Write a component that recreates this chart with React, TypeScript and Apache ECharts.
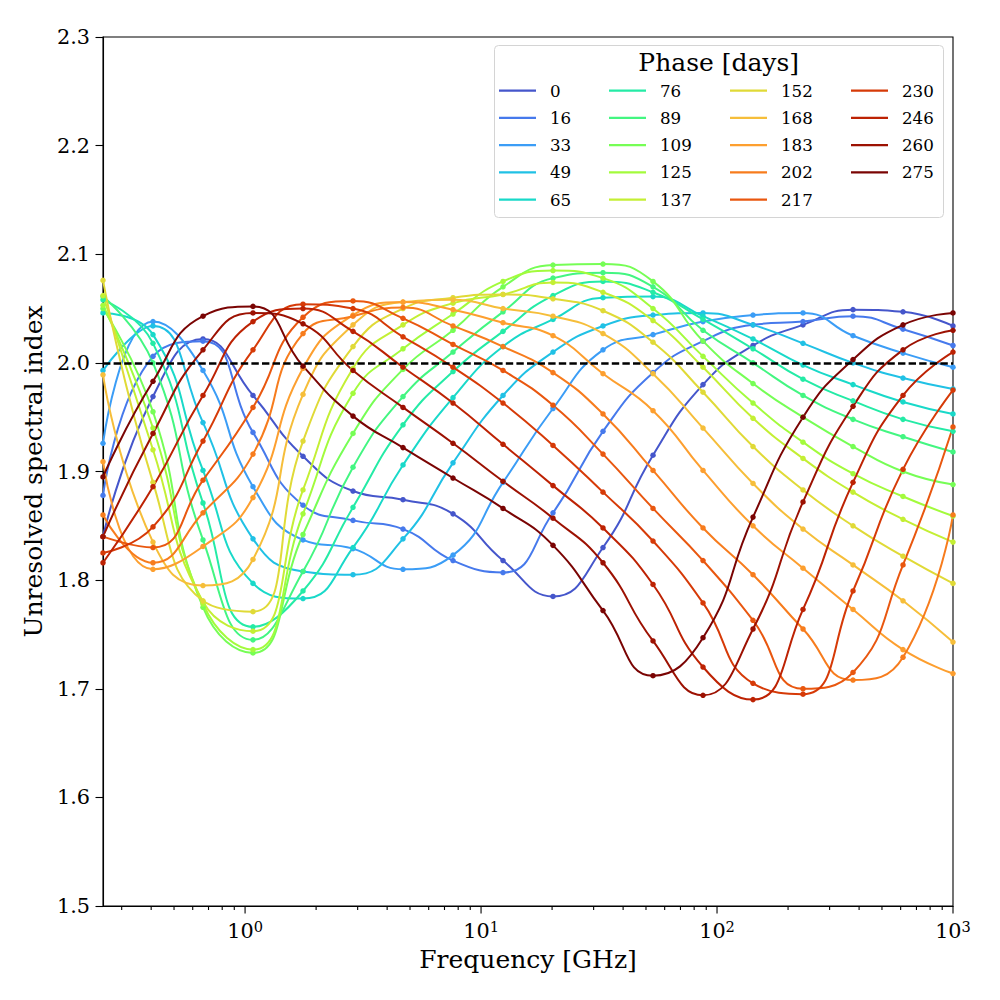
import React, { useEffect, useRef } from "react";
import * as echarts from "echarts";

// Marker frequencies [GHz] (18 log-spaced points from 0.25 to 1000 GHz)
const FREQ_GHZ = [0.25, 0.4072, 0.6633, 1.0804, 1.76, 2.8668, 4.67, 7.6063, 12.391, 20.18, 32.87, 53.548, 87.225, 142.08, 231.42, 376.96, 614.0, 1000];

const PHASES = [0, 16, 33, 49, 65, 76, 89, 109, 125, 137, 152, 168, 183, 202, 217, 230, 246, 260, 275];

// Unresolved spectral index per phase, at each marker frequency
const S0 = [1.840, 1.969, 2.022, 1.970, 1.914, 1.882, 1.874, 1.861, 1.818, 1.785, 1.830, 1.915, 1.980, 2.016, 2.035, 2.049, 2.047, 2.034];
const S16 = [1.878, 2.006, 2.020, 1.936, 1.869, 1.855, 1.847, 1.818, 1.807, 1.862, 1.937, 1.991, 2.020, 2.035, 2.038, 2.043, 2.031, 2.016];
const S33 = [1.926, 2.038, 1.993, 1.886, 1.837, 1.829, 1.810, 1.823, 1.890, 1.958, 2.012, 2.026, 2.038, 2.044, 2.046, 2.025, 2.009, 1.996];
const S49 = [1.993, 2.034, 1.945, 1.838, 1.808, 1.805, 1.838, 1.908, 1.970, 2.010, 2.034, 2.044, 2.046, 2.035, 2.018, 2.000, 1.986, 1.976];
const S65 = [2.046, 2.026, 1.901, 1.797, 1.783, 1.830, 1.906, 1.968, 2.015, 2.040, 2.060, 2.061, 2.043, 2.022, 1.998, 1.980, 1.964, 1.953];
const S76 = [2.058, 2.018, 1.871, 1.757, 1.790, 1.867, 1.943, 1.992, 2.029, 2.062, 2.075, 2.065, 2.040, 2.013, 1.985, 1.965, 1.948, 1.937];
const S89 = [2.061, 2.000, 1.837, 1.745, 1.808, 1.904, 1.969, 2.010, 2.047, 2.078, 2.083, 2.070, 2.030, 2.000, 1.970, 1.948, 1.932, 1.918];
const S109 = [2.050, 1.955, 1.775, 1.733, 1.842, 1.935, 1.994, 2.030, 2.070, 2.090, 2.091, 2.075, 2.020, 1.981, 1.950, 1.923, 1.900, 1.888];
const S125 = [2.053, 1.940, 1.778, 1.736, 1.861, 1.972, 2.013, 2.045, 2.075, 2.085, 2.078, 2.050, 2.006, 1.963, 1.927, 1.898, 1.877, 1.859];
const S137 = [2.062, 1.920, 1.780, 1.753, 1.883, 1.995, 2.035, 2.055, 2.063, 2.074, 2.065, 2.039, 1.996, 1.949, 1.912, 1.881, 1.856, 1.835];
const S152 = [2.076, 1.890, 1.781, 1.771, 1.928, 2.015, 2.050, 2.060, 2.063, 2.059, 2.048, 2.019, 1.973, 1.923, 1.883, 1.850, 1.822, 1.797];
const S168 = [1.989, 1.835, 1.795, 1.819, 1.971, 2.035, 2.056, 2.058, 2.050, 2.043, 2.027, 1.990, 1.940, 1.889, 1.847, 1.814, 1.781, 1.743];
const S183 = [1.909, 1.810, 1.831, 1.876, 1.995, 2.044, 2.056, 2.049, 2.037, 2.025, 1.990, 1.956, 1.901, 1.850, 1.811, 1.773, 1.736, 1.714];
const S202 = [1.860, 1.816, 1.862, 1.916, 2.027, 2.043, 2.051, 2.034, 2.015, 1.991, 1.953, 1.901, 1.848, 1.805, 1.755, 1.708, 1.729, 1.860];
const S217 = [1.840, 1.830, 1.892, 1.959, 2.042, 2.057, 2.041, 2.017, 1.993, 1.961, 1.916, 1.866, 1.818, 1.763, 1.700, 1.715, 1.814, 1.941];
const S230 = [1.825, 1.849, 1.928, 2.012, 2.054, 2.050, 2.024, 1.996, 1.963, 1.924, 1.881, 1.836, 1.779, 1.705, 1.695, 1.790, 1.902, 1.975];
const S246 = [1.816, 1.886, 1.970, 2.038, 2.050, 2.029, 1.996, 1.963, 1.925, 1.887, 1.848, 1.796, 1.720, 1.690, 1.773, 1.890, 1.970, 2.010];
const S260 = [1.840, 1.935, 2.012, 2.046, 2.036, 1.993, 1.959, 1.926, 1.891, 1.857, 1.816, 1.744, 1.694, 1.755, 1.872, 1.960, 2.012, 2.030];
const S275 = [1.895, 1.983, 2.043, 2.052, 1.997, 1.951, 1.922, 1.894, 1.866, 1.832, 1.772, 1.712, 1.747, 1.858, 1.950, 2.003, 2.035, 2.046];

const SERIES_VALUES = [S0, S16, S33, S49, S65, S76, S89, S109, S125, S137, S152, S168, S183, S202, S217, S230, S246, S260, S275];

const COLORS = [
  "#4556cb", "#4679ec", "#3b9df6", "#20c1e5", "#19d9c9", "#24eba6", "#43f681",
  "#76fe55", "#a3fb3c", "#c4ef34", "#e0da37", "#f6be3a", "#fd9f2f", "#f77c1d",
  "#e9570f", "#d63a07", "#bd2203", "#9c1102", "#7a0403",
];

const LEGEND_COLUMNS = [
  [0, 16, 33, 49, 65],
  [76, 89, 109, 125, 137],
  [152, 168, 183, 202, 217],
  [230, 246, 260, 275],
];

const MAJOR_X_TICKS = [1, 10, 100, 1000];
const MINOR_X_TICKS = [0.3, 0.4, 0.5, 0.6, 0.7, 0.8, 0.9, 2, 3, 4, 5, 6, 7, 8, 9, 20, 30, 40, 50, 60, 70, 80, 90, 200, 300, 400, 500, 600, 700, 800, 900];

const REFERENCE_INDEX = 2.0;
const Y_MIN = 1.5;
const Y_MAX = 2.3;
const Y_STEP = 0.1;
const X_MIN = 0.25;
const X_MAX = 1000;

const FONT = "DejaVu Serif";
const LEGEND_LEFTS = [499, 609, 730, 851];

export default function App() {
  const ref = useRef<HTMLDivElement>(null);

  useEffect(() => {
    const chart = echarts.init(ref.current as HTMLDivElement, null, { renderer: "svg" });

    const lineSeries: any[] = PHASES.map((p, i) => ({
      name: String(p),
      type: "line",
      data: FREQ_GHZ.map((f, k) => [f, SERIES_VALUES[i][k]]),
      smooth: 0.5,
      symbol: "circle",
      symbolSize: 5.5,
      showSymbol: true,
      clip: true,
      lineStyle: { width: 2, color: COLORS[i] },
      itemStyle: { color: COLORS[i] },
      emphasis: { disabled: true },
      z: 2,
    }));

    lineSeries[lineSeries.length - 1].markLine = {
      silent: true,
      symbol: ["none", "none"],
      label: { show: false },
      emphasis: { disabled: true },
      lineStyle: { color: "#000", width: 2.6, type: [7.4, 3.2], opacity: 1 },
      data: [{ yAxis: REFERENCE_INDEX }],
    };

    const tickSeries = {
      type: "custom",
      silent: true,
      clip: false,
      z: 6,
      encode: { x: 0, y: 1 },
      data: [
        ...MAJOR_X_TICKS.map((v) => [v, Y_MIN, 1]),
        ...MINOR_X_TICKS.map((v) => [v, Y_MIN, 0]),
      ],
      renderItem: (params: any, api: any) => {
        const v = api.value(0);
        const major = api.value(2) === 1;
        const pt = api.coord([v, Y_MIN]);
        const cs = params.coordSys;
        const yb = cs.y + cs.height;
        const len = major ? 7.5 : 4;
        return {
          type: "line",
          shape: { x1: pt[0], y1: yb, x2: pt[0], y2: yb + len },
          style: { stroke: "#000", lineWidth: 1.1 },
        };
      },
    };

    const option: any = {
      animation: false,
      backgroundColor: "#fff",
      textStyle: { fontFamily: FONT },
      grid: {
        left: 103,
        top: 37,
        right: 47,
        bottom: 94,
        show: true,
        borderColor: "#000",
        borderWidth: 1.1,
        backgroundColor: "transparent",
        containLabel: false,
      },
      xAxis: {
        type: "log",
        logBase: 10,
        min: X_MIN,
        max: X_MAX,
        axisLine: { show: true, lineStyle: { color: "#000", width: 1.1 } },
        axisTick: { show: false },
        minorTick: { show: false },
        splitLine: { show: false },
        axisLabel: {
          color: "#000",
          fontFamily: FONT,
          margin: 13,
          formatter: (v: number) => {
            const lg = Math.log10(v);
            const e = Math.round(lg);
            if (Math.abs(lg - e) > 1e-6) return "";
            return `{b|10}{s|${e}}`;
          },
          rich: {
            b: { fontFamily: FONT, fontSize: 20.8, lineHeight: 24, color: "#000" },
            s: { fontFamily: FONT, fontSize: 14.6, lineHeight: 16, verticalAlign: "top", color: "#000" },
          },
        },
        name: "Frequency [GHz]",
        nameLocation: "middle",
        nameGap: 41,
        nameTextStyle: { fontFamily: FONT, fontSize: 25, color: "#000" },
      },
      yAxis: {
        type: "value",
        min: Y_MIN,
        max: Y_MAX,
        interval: Y_STEP,
        axisLine: { show: true, lineStyle: { color: "#000", width: 1.1 } },
        axisTick: { show: true, length: 7.5, lineStyle: { color: "#000", width: 1.1 } },
        splitLine: { show: false },
        axisLabel: {
          color: "#000",
          fontFamily: FONT,
          fontSize: 20.8,
          margin: 13,
          formatter: (v: number) => v.toFixed(1),
        },
        name: "Unresolved spectral index",
        nameLocation: "middle",
        nameGap: 54,
        nameTextStyle: { fontFamily: FONT, fontSize: 25, color: "#000" },
      },
      legend: LEGEND_COLUMNS.map((col, ci) => ({
        data: col.map(String),
        orient: "vertical",
        left: LEGEND_LEFTS[ci],
        top: 80.7,
        padding: 0,
        itemGap: 7.25,
        itemWidth: 37,
        itemHeight: 2.2,
        icon: "rect",
        selectedMode: false,
        itemStyle: { borderWidth: 0 },
        textStyle: {
          fontFamily: FONT,
          fontSize: 16.7,
          color: "#000",
          lineHeight: 20,
          padding: [0, 0, 0, 9],
        },
        z: 5,
      })),
      graphic: [
        {
          type: "rect",
          silent: true,
          z: 3,
          shape: { x: 494.5, y: 45.5, width: 449, height: 172, r: 4 },
          style: { fill: "rgba(255,255,255,0.8)", stroke: "#d4d4d4", lineWidth: 1 },
        },
        {
          type: "text",
          silent: true,
          z: 4,
          x: 718.7,
          y: 62,
          style: {
            text: "Phase [days]",
            fontFamily: FONT,
            fontSize: 25,
            fill: "#000",
            align: "center",
            verticalAlign: "middle",
          },
        },
      ],
      series: [...lineSeries, tickSeries],
    };

    chart.setOption(option);
    return () => chart.dispose();
  }, []);

  return (
    <div
      ref={ref}
      style={{ position: "fixed", left: 0, top: 0, width: 1000, height: 1000, background: "#fff" }}
    />
  );
}
